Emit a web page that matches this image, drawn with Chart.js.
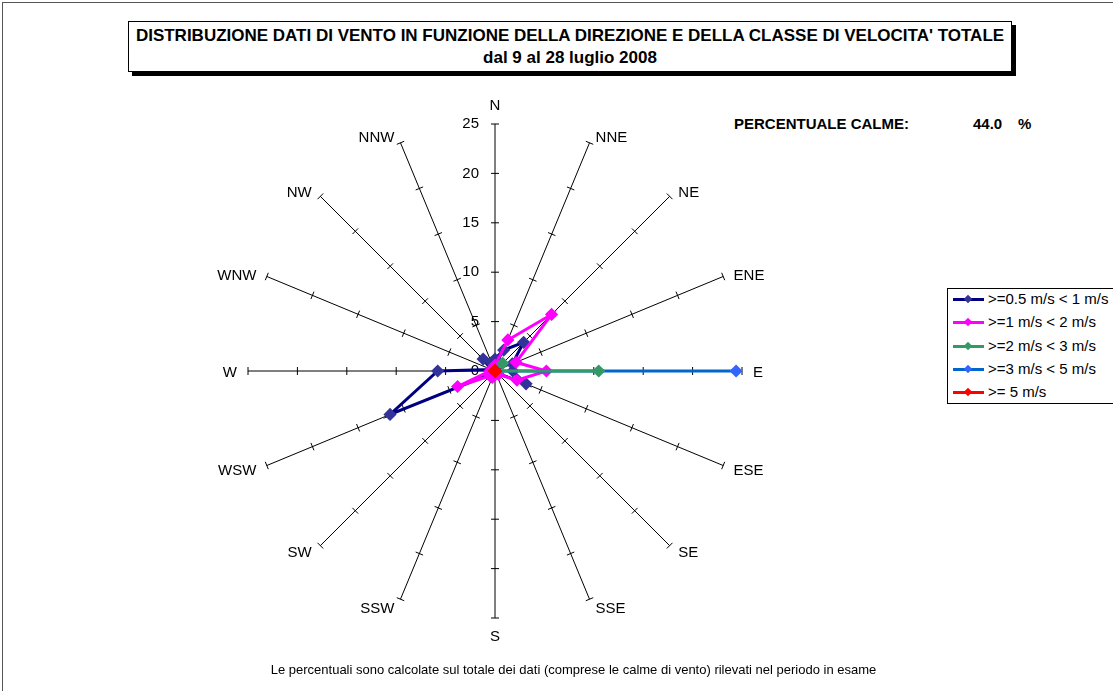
<!DOCTYPE html>
<html>
<head>
<meta charset="utf-8">
<script src="https://cdn.jsdelivr.net/npm/chart.js@4.4.0/dist/chart.umd.min.js"></script>
<style>
  html, body { margin: 0; padding: 0; background: #fff; }
  body { width: 1113px; height: 691px; position: relative; overflow: hidden; font-family: Arial, 'Liberation Sans', sans-serif; }
  #frame { position: absolute; left: 2px; top: 2px; width: 1200px; height: 800px; border: 1px solid #555; }
  #titleBox { position: absolute; left: 128px; top: 21px; width: 882px; height: 49px; border: 1px solid #000;
    box-shadow: 4px 4px 0 #000; background: #fff; text-align: center; font-weight: bold; font-size: 17px; color: #000; }
  #titleBox .l1 { position: absolute; left: -20px; right: -20px; top: 4px; white-space: nowrap; }
  #titleBox .l2 { position: absolute; left: 0; right: 0; top: 26px; font-size: 17px; }
  .calme { position: absolute; top: 115px; font-weight: bold; font-size: 15px; color: #000; white-space: nowrap; }
  #footer { position: absolute; top: 662px; left: 0; width: 1147px; text-align: center; font-size: 13px; color: #000; }
  #legend { position: absolute; left: 947px; top: 288px; width: 200px; height: 114px; border: 1px solid #000; background: #fff; }
  .item { position: absolute; left: 0; height: 20px; font-size: 15px; color: #000; white-space: nowrap; }
  .item .ln { position: absolute; left: 5px; top: 9px; width: 31px; height: 3px; }
  .item .mk { position: absolute; left: 17px; top: 7px; width: 6px; height: 6px; transform: rotate(45deg); }
  .item .tx { position: absolute; left: 40px; top: 1px; }
  #c { position: absolute; left: 0; top: 0; }
</style>
</head>
<body>
<div id="frame"></div>
<div id="titleBox">
  <div class="l1">DISTRIBUZIONE DATI DI VENTO IN FUNZIONE DELLA DIREZIONE E DELLA CLASSE DI VELOCITA' TOTALE</div>
  <div class="l2">dal 9 al 28 luglio 2008</div>
</div>
<div class="calme" style="left:734px">PERCENTUALE CALME:</div>
<div class="calme" style="left:973px">44.0</div>
<div class="calme" style="left:1018px">%</div>
<canvas id="c" width="1113" height="691"></canvas>
<div id="legend"></div>
<div id="footer">Le percentuali sono calcolate sul totale dei dati (comprese le calme di vento) rilevati nel periodo in esame</div>
<script>
// direzioni del vento
const directions = ['N', 'NNE', 'NE', 'ENE', 'E', 'ESE', 'SE', 'SSE', 'S', 'SSW', 'SW', 'WSW', 'W', 'WNW', 'NW', 'NNW'];
const scaleTicks = [0, 5, 10, 15, 20, 25];

// percentuali per classe di velocita'
const class05to1 = [1.2, 2.3, 4.1, 1.9, 1.8, 3.4, 0.3, 0.2, 0.2, 0.1, 0.3, 11.5, 5.8, 0.4, 1.7, 0.9];
const class1to2  = [0.6, 3.4, 8.1, 2.3, 5.2, 2.4, 0.5, 0.3, 0.4, 0.7, 0.7, 4.1, 0.5, 0.2, 0.4, 0.3];
const class2to3  = [0, 0, 1.1, 0, 10.5, 0, 0, 0, 0, 0, 0, 0, 0, 0, 0, 0];
const class3to5  = [0, 0, 0, 0, 24.4, 0, 0, 0, 0, 0, 0, 0, 0, 0, 0, 0];
const classOver5 = [0, 0, 0, 0, 0, 0, 0, 0, 0, 0, 0, 0, 0, 0, 0, 0];

const seriesLabels = ['>=0.5 m/s < 1 m/s', '>=1 m/s < 2 m/s', '>=2 m/s < 3 m/s', '>=3 m/s < 5 m/s', '>= 5 m/s'];
const lineColors = ['#000080', '#FF00FF', '#339966', '#0066CC', '#FF0000'];
const markerColors = ['#333399', '#FF00FF', '#339966', '#3366FF', '#FF0000'];
const allSeries = [class05to1, class1to2, class2to3, class3to5, classOver5];
const drawOrder = [4, 3, 1, 2, 0];

const FONT = "Arial, 'Liberation Sans', sans-serif";

// tacche sui raggi, etichette della scala e delle direzioni
const spokeTicks = {
  id: 'spokeTicks',
  beforeDatasetsDraw(chart) {
    const scale = chart.scales.r;
    const ctx = chart.ctx;
    const n = chart.data.labels.length;
    const R = scale.getDistanceFromCenterForValue(scale.max);
    ctx.save();
    ctx.strokeStyle = '#000';
    ctx.lineWidth = 1;
    for (let i = 0; i < n; i++) {
      for (const v of scaleTicks) {
        if (v === 0) continue;
        const dist = scale.getDistanceFromCenterForValue(v);
        const p = scale.getPointPosition(i, dist);
        const ang = scale.getIndexAngle(i) - Math.PI / 2;
        const px = -Math.sin(ang), py = Math.cos(ang);
        ctx.beginPath();
        ctx.moveTo(p.x - px * 4, p.y - py * 4);
        ctx.lineTo(p.x + px * 4, p.y + py * 4);
        ctx.stroke();
      }
    }
    ctx.fillStyle = '#000';
    ctx.font = '15px ' + FONT;
    ctx.textAlign = 'right';
    ctx.textBaseline = 'middle';
    for (const v of scaleTicks) {
      const p = scale.getPointPositionForValue(0, v);
      ctx.fillText(String(v), p.x - 16, p.y);
    }
    // etichette direzioni
    for (let i = 0; i < n; i++) {
      const p = scale.getPointPosition(i, R + 8);
      const tip = scale.getPointPosition(i, R);
      if (i === 0) {
        ctx.textAlign = 'center'; ctx.textBaseline = 'bottom';
        ctx.fillText(directions[i], tip.x, tip.y - 11);
      } else if (i === n / 2) {
        ctx.textAlign = 'center'; ctx.textBaseline = 'top';
        ctx.fillText(directions[i], tip.x, tip.y + 11);
      } else if (i < n / 2) {
        ctx.textAlign = 'left'; ctx.textBaseline = 'middle';
        ctx.fillText(directions[i], p.x + 3, p.y + 2);
      } else {
        ctx.textAlign = 'right'; ctx.textBaseline = 'middle';
        ctx.fillText(directions[i], p.x - 3, p.y + 2);
      }
    }
    ctx.restore();
  }
};

const datasets = allSeries.map((data, k) => ({
  label: seriesLabels[k],
  data: data,
  borderColor: lineColors[k],
  backgroundColor: markerColors[k],
  pointBackgroundColor: markerColors[k],
  pointBorderColor: markerColors[k],
  borderWidth: 3,
  pointStyle: 'rectRot',
  pointRadius: 4.5,
  fill: false,
  tension: 0,
  order: drawOrder[k]
}));

new Chart(document.getElementById('c').getContext('2d'), {
  type: 'radar',
  data: { labels: directions, datasets: datasets },
  options: {
    responsive: false,
    animation: false,
    layout: { padding: { left: 248, right: 371, top: 124, bottom: 73 } },
    plugins: { legend: { display: false }, tooltip: { enabled: false } },
    elements: { line: { borderJoinStyle: 'miter' } },
    scales: {
      r: {
        min: 0,
        max: 25,
        ticks: { display: false, stepSize: 5 },
        grid: { display: false },
        angleLines: { display: true, color: '#000', lineWidth: 1 },
        pointLabels: { display: false }
      }
    }
  },
  plugins: [spokeTicks]
});

// legenda
const legend = document.getElementById('legend');
seriesLabels.forEach((lab, k) => {
  const it = document.createElement('div');
  it.className = 'item';
  it.style.top = Math.round(k * 23.3) + 'px';
  it.innerHTML = '<span class="ln" style="background:' + lineColors[k] + '"></span>' +
    '<span class="mk" style="background:' + markerColors[k] + '"></span>' +
    '<span class="tx">' + lab.replace(/</g, '&lt;').replace(/>/g, '&gt;') + '</span>';
  legend.appendChild(it);
});
</script>
</body>
</html>
